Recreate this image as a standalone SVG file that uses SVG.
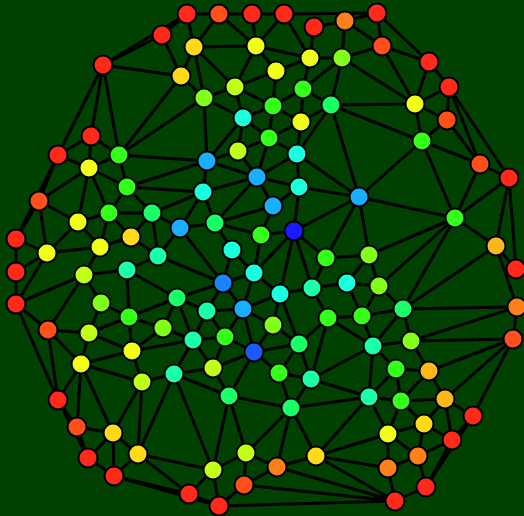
<svg xmlns="http://www.w3.org/2000/svg" width="524" height="516" viewBox="0 0 524 516">
<style>
#edges line{stroke:#000;stroke-width:3;stroke-linecap:round}
.node circle{r:9.5px;stroke:#000;stroke-width:2}
.r{fill:#ff2a1a}.or{fill:#ff4f1a}.o{fill:#ff801a}.oy{fill:#ffb81a}.gd{fill:#ffd91a}.y{fill:#f0ff1a}.yg{fill:#bfff1a}.l{fill:#80ff1a}.g{fill:#33ff1a}.sg{fill:#1aff66}.aq{fill:#1affa8}.cy{fill:#1affdc}.az{fill:#1aaeff}.db{fill:#1a85ff}.bl{fill:#1a1aff}.b2{fill:#1a5aff}
</style>
<rect width="524" height="516" fill="#004000"/>
<g id="edges">
<line x1="187" y1="14" x2="219" y2="14"/><line x1="219" y1="14" x2="252" y2="14"/><line x1="252" y1="14" x2="284" y2="14"/><line x1="284" y1="14" x2="377" y2="13"/>
<line x1="314" y1="27" x2="345" y2="21"/><line x1="314" y1="27" x2="310" y2="58"/><line x1="345" y1="21" x2="377" y2="13"/><line x1="345" y1="21" x2="382" y2="46"/>
<line x1="377" y1="13" x2="382" y2="46"/><line x1="377" y1="13" x2="429" y2="62"/><line x1="345" y1="21" x2="342" y2="58"/><line x1="342" y1="58" x2="382" y2="46"/>
<line x1="382" y1="46" x2="429" y2="62"/><line x1="382" y1="46" x2="415" y2="104"/><line x1="342" y1="58" x2="415" y2="104"/><line x1="429" y1="62" x2="449" y2="87"/>
<line x1="429" y1="62" x2="415" y2="104"/><line x1="449" y1="87" x2="415" y2="104"/><line x1="449" y1="87" x2="447" y2="120"/><line x1="449" y1="87" x2="480" y2="164"/>
<line x1="449" y1="87" x2="509" y2="178"/><line x1="331" y1="105" x2="415" y2="104"/><line x1="415" y1="104" x2="447" y2="120"/><line x1="415" y1="104" x2="422" y2="141"/>
<line x1="447" y1="120" x2="422" y2="141"/><line x1="447" y1="120" x2="480" y2="164"/><line x1="422" y1="141" x2="480" y2="164"/><line x1="480" y1="164" x2="509" y2="178"/>
<line x1="331" y1="105" x2="422" y2="141"/><line x1="422" y1="141" x2="359" y2="197"/><line x1="422" y1="141" x2="455" y2="218"/><line x1="480" y1="164" x2="455" y2="218"/>
<line x1="331" y1="105" x2="359" y2="197"/><line x1="162" y1="35" x2="187" y2="14"/><line x1="103" y1="65" x2="162" y2="35"/><line x1="103" y1="65" x2="187" y2="14"/>
<line x1="162" y1="35" x2="181" y2="76"/><line x1="103" y1="65" x2="181" y2="76"/><line x1="103" y1="65" x2="91" y2="136"/><line x1="103" y1="65" x2="58" y2="155"/>
<line x1="103" y1="65" x2="119" y2="155"/><line x1="187" y1="14" x2="194" y2="47"/><line x1="219" y1="14" x2="194" y2="47"/><line x1="219" y1="14" x2="256" y2="46"/>
<line x1="252" y1="14" x2="256" y2="46"/><line x1="284" y1="14" x2="256" y2="46"/><line x1="284" y1="14" x2="310" y2="58"/><line x1="194" y1="47" x2="256" y2="46"/>
<line x1="194" y1="47" x2="181" y2="76"/><line x1="194" y1="47" x2="204" y2="98"/><line x1="194" y1="47" x2="235" y2="87"/><line x1="256" y1="46" x2="235" y2="87"/>
<line x1="256" y1="46" x2="310" y2="58"/><line x1="256" y1="46" x2="276" y2="71"/><line x1="310" y1="58" x2="276" y2="71"/><line x1="310" y1="58" x2="303" y2="89"/>
<line x1="310" y1="58" x2="342" y2="58"/><line x1="342" y1="58" x2="303" y2="89"/><line x1="342" y1="58" x2="331" y2="105"/><line x1="276" y1="71" x2="235" y2="87"/>
<line x1="276" y1="71" x2="273" y2="106"/><line x1="303" y1="89" x2="273" y2="106"/><line x1="303" y1="89" x2="331" y2="105"/><line x1="303" y1="89" x2="301" y2="122"/>
<line x1="235" y1="87" x2="243" y2="118"/><line x1="235" y1="87" x2="273" y2="106"/><line x1="235" y1="87" x2="204" y2="98"/><line x1="181" y1="76" x2="204" y2="98"/>
<line x1="181" y1="76" x2="119" y2="155"/><line x1="204" y1="98" x2="119" y2="155"/><line x1="204" y1="98" x2="243" y2="118"/><line x1="204" y1="98" x2="207" y2="161"/>
<line x1="273" y1="106" x2="243" y2="118"/><line x1="273" y1="106" x2="301" y2="122"/><line x1="273" y1="106" x2="269" y2="138"/><line x1="331" y1="105" x2="301" y2="122"/>
<line x1="331" y1="105" x2="297" y2="154"/><line x1="243" y1="118" x2="269" y2="138"/><line x1="243" y1="118" x2="238" y2="151"/><line x1="243" y1="118" x2="207" y2="161"/>
<line x1="301" y1="122" x2="269" y2="138"/><line x1="301" y1="122" x2="297" y2="154"/><line x1="269" y1="138" x2="238" y2="151"/><line x1="269" y1="138" x2="297" y2="154"/>
<line x1="269" y1="138" x2="257" y2="177"/><line x1="238" y1="151" x2="207" y2="161"/><line x1="238" y1="151" x2="257" y2="177"/><line x1="207" y1="161" x2="257" y2="177"/>
<line x1="207" y1="161" x2="203" y2="192"/><line x1="207" y1="161" x2="119" y2="155"/><line x1="207" y1="161" x2="127" y2="187"/><line x1="297" y1="154" x2="257" y2="177"/>
<line x1="297" y1="154" x2="299" y2="187"/><line x1="297" y1="154" x2="359" y2="197"/><line x1="257" y1="177" x2="299" y2="187"/><line x1="257" y1="177" x2="273" y2="206"/>
<line x1="257" y1="177" x2="203" y2="192"/><line x1="257" y1="177" x2="215" y2="223"/><line x1="299" y1="187" x2="359" y2="197"/><line x1="299" y1="187" x2="273" y2="206"/>
<line x1="299" y1="187" x2="294" y2="231"/><line x1="273" y1="206" x2="261" y2="235"/><line x1="273" y1="206" x2="215" y2="223"/><line x1="203" y1="192" x2="215" y2="223"/>
<line x1="203" y1="192" x2="180" y2="228"/><line x1="203" y1="192" x2="152" y2="213"/><line x1="203" y1="192" x2="127" y2="187"/><line x1="359" y1="197" x2="455" y2="218"/>
<line x1="359" y1="197" x2="369" y2="255"/><line x1="359" y1="197" x2="326" y2="258"/><line x1="359" y1="197" x2="294" y2="231"/><line x1="215" y1="223" x2="180" y2="228"/>
<line x1="215" y1="223" x2="232" y2="250"/><line x1="215" y1="223" x2="261" y2="235"/><line x1="180" y1="228" x2="152" y2="213"/><line x1="180" y1="228" x2="158" y2="256"/>
<line x1="180" y1="228" x2="223" y2="283"/><line x1="294" y1="231" x2="261" y2="235"/><line x1="294" y1="231" x2="254" y2="273"/><line x1="294" y1="231" x2="280" y2="294"/>
<line x1="294" y1="231" x2="312" y2="288"/><line x1="294" y1="231" x2="326" y2="258"/><line x1="261" y1="235" x2="254" y2="273"/><line x1="232" y1="250" x2="223" y2="283"/>
<line x1="232" y1="250" x2="254" y2="273"/><line x1="455" y1="218" x2="509" y2="178"/><line x1="455" y1="218" x2="496" y2="246"/><line x1="455" y1="218" x2="369" y2="255"/>
<line x1="455" y1="218" x2="379" y2="286"/><line x1="455" y1="218" x2="403" y2="309"/><line x1="509" y1="178" x2="496" y2="246"/><line x1="509" y1="178" x2="516" y2="269"/>
<line x1="496" y1="246" x2="516" y2="269"/><line x1="496" y1="246" x2="517" y2="307"/><line x1="496" y1="246" x2="403" y2="309"/><line x1="403" y1="309" x2="517" y2="307"/>
<line x1="517" y1="307" x2="411" y2="341"/><line x1="411" y1="341" x2="513" y2="339"/><line x1="517" y1="307" x2="513" y2="339"/><line x1="326" y1="258" x2="369" y2="255"/>
<line x1="326" y1="258" x2="312" y2="288"/><line x1="369" y1="255" x2="347" y2="283"/><line x1="369" y1="255" x2="379" y2="286"/><line x1="347" y1="283" x2="379" y2="286"/>
<line x1="347" y1="283" x2="312" y2="288"/><line x1="347" y1="283" x2="362" y2="316"/><line x1="379" y1="286" x2="362" y2="316"/><line x1="379" y1="286" x2="403" y2="309"/>
<line x1="362" y1="316" x2="403" y2="309"/><line x1="362" y1="316" x2="328" y2="318"/><line x1="362" y1="316" x2="373" y2="346"/><line x1="403" y1="309" x2="373" y2="346"/>
<line x1="403" y1="309" x2="411" y2="341"/><line x1="373" y1="346" x2="411" y2="341"/><line x1="312" y1="288" x2="280" y2="294"/><line x1="312" y1="288" x2="328" y2="318"/>
<line x1="280" y1="294" x2="254" y2="273"/><line x1="280" y1="294" x2="243" y2="309"/><line x1="280" y1="294" x2="299" y2="344"/><line x1="280" y1="294" x2="273" y2="325"/>
<line x1="254" y1="273" x2="223" y2="283"/><line x1="254" y1="273" x2="243" y2="309"/><line x1="223" y1="283" x2="177" y2="298"/><line x1="223" y1="283" x2="158" y2="256"/>
<line x1="223" y1="283" x2="207" y2="311"/><line x1="223" y1="283" x2="243" y2="309"/><line x1="177" y1="298" x2="207" y2="311"/><line x1="177" y1="298" x2="193" y2="340"/>
<line x1="207" y1="311" x2="243" y2="309"/><line x1="207" y1="311" x2="193" y2="340"/><line x1="207" y1="311" x2="225" y2="337"/><line x1="243" y1="309" x2="225" y2="337"/>
<line x1="243" y1="309" x2="254" y2="352"/><line x1="243" y1="309" x2="273" y2="325"/><line x1="328" y1="318" x2="299" y2="344"/><line x1="328" y1="318" x2="373" y2="346"/>
<line x1="273" y1="325" x2="299" y2="344"/><line x1="273" y1="325" x2="254" y2="352"/><line x1="193" y1="340" x2="225" y2="337"/><line x1="225" y1="337" x2="254" y2="352"/>
<line x1="299" y1="344" x2="254" y2="352"/><line x1="299" y1="344" x2="279" y2="373"/><line x1="299" y1="344" x2="311" y2="379"/><line x1="328" y1="318" x2="311" y2="379"/>
<line x1="254" y1="352" x2="213" y2="368"/><line x1="254" y1="352" x2="229" y2="396"/><line x1="254" y1="352" x2="279" y2="373"/><line x1="193" y1="340" x2="213" y2="368"/>
<line x1="225" y1="337" x2="213" y2="368"/><line x1="193" y1="340" x2="174" y2="374"/><line x1="174" y1="374" x2="213" y2="368"/><line x1="174" y1="374" x2="229" y2="396"/>
<line x1="174" y1="374" x2="213" y2="470"/><line x1="174" y1="374" x2="142" y2="382"/><line x1="174" y1="374" x2="138" y2="454"/><line x1="213" y1="368" x2="229" y2="396"/>
<line x1="279" y1="373" x2="311" y2="379"/><line x1="279" y1="373" x2="291" y2="408"/><line x1="311" y1="379" x2="291" y2="408"/><line x1="311" y1="379" x2="373" y2="346"/>
<line x1="311" y1="379" x2="369" y2="397"/><line x1="291" y1="408" x2="369" y2="397"/><line x1="229" y1="396" x2="291" y2="408"/><line x1="229" y1="396" x2="246" y2="453"/>
<line x1="229" y1="396" x2="213" y2="470"/><line x1="291" y1="408" x2="246" y2="453"/><line x1="291" y1="408" x2="277" y2="467"/><line x1="291" y1="408" x2="316" y2="456"/>
<line x1="373" y1="346" x2="396" y2="369"/><line x1="373" y1="346" x2="369" y2="397"/><line x1="411" y1="341" x2="429" y2="371"/><line x1="396" y1="369" x2="429" y2="371"/>
<line x1="396" y1="369" x2="369" y2="397"/><line x1="396" y1="369" x2="401" y2="401"/><line x1="429" y1="371" x2="401" y2="401"/><line x1="429" y1="371" x2="513" y2="339"/>
<line x1="429" y1="371" x2="445" y2="399"/><line x1="513" y1="339" x2="445" y2="399"/><line x1="513" y1="339" x2="473" y2="416"/><line x1="369" y1="397" x2="401" y2="401"/>
<line x1="369" y1="397" x2="388" y2="434"/><line x1="369" y1="397" x2="316" y2="456"/><line x1="401" y1="401" x2="445" y2="399"/><line x1="401" y1="401" x2="424" y2="424"/>
<line x1="401" y1="401" x2="388" y2="434"/><line x1="445" y1="399" x2="473" y2="416"/><line x1="445" y1="399" x2="424" y2="424"/><line x1="445" y1="399" x2="452" y2="440"/>
<line x1="473" y1="416" x2="452" y2="440"/><line x1="473" y1="416" x2="426" y2="487"/><line x1="452" y1="440" x2="426" y2="487"/><line x1="452" y1="440" x2="418" y2="456"/>
<line x1="452" y1="440" x2="424" y2="424"/><line x1="424" y1="424" x2="388" y2="434"/><line x1="424" y1="424" x2="418" y2="456"/><line x1="388" y1="434" x2="418" y2="456"/>
<line x1="388" y1="434" x2="388" y2="468"/><line x1="388" y1="434" x2="316" y2="456"/><line x1="418" y1="456" x2="388" y2="468"/><line x1="418" y1="456" x2="426" y2="487"/>
<line x1="388" y1="468" x2="395" y2="501"/><line x1="426" y1="487" x2="395" y2="501"/><line x1="316" y1="456" x2="388" y2="468"/><line x1="316" y1="456" x2="395" y2="501"/>
<line x1="316" y1="456" x2="277" y2="467"/><line x1="277" y1="467" x2="246" y2="453"/><line x1="277" y1="467" x2="244" y2="485"/><line x1="277" y1="467" x2="395" y2="501"/>
<line x1="246" y1="453" x2="244" y2="485"/><line x1="246" y1="453" x2="213" y2="470"/><line x1="244" y1="485" x2="219" y2="506"/><line x1="244" y1="485" x2="395" y2="501"/>
<line x1="219" y1="506" x2="395" y2="501"/><line x1="213" y1="470" x2="189" y2="494"/><line x1="213" y1="470" x2="219" y2="506"/><line x1="189" y1="494" x2="219" y2="506"/>
<line x1="213" y1="470" x2="138" y2="454"/><line x1="138" y1="454" x2="189" y2="494"/><line x1="114" y1="476" x2="189" y2="494"/><line x1="114" y1="476" x2="219" y2="506"/>
<line x1="114" y1="476" x2="138" y2="454"/><line x1="114" y1="476" x2="88" y2="458"/><line x1="113" y1="433" x2="138" y2="454"/><line x1="113" y1="433" x2="88" y2="458"/>
<line x1="113" y1="433" x2="114" y2="476"/><line x1="77" y1="427" x2="113" y2="433"/><line x1="58" y1="400" x2="77" y2="427"/><line x1="77" y1="427" x2="88" y2="458"/>
<line x1="58" y1="400" x2="88" y2="458"/><line x1="81" y1="364" x2="58" y2="400"/><line x1="81" y1="364" x2="77" y2="427"/><line x1="81" y1="364" x2="113" y2="433"/>
<line x1="81" y1="364" x2="132" y2="351"/><line x1="81" y1="364" x2="142" y2="382"/><line x1="81" y1="364" x2="89" y2="333"/><line x1="81" y1="364" x2="48" y2="330"/>
<line x1="132" y1="351" x2="142" y2="382"/><line x1="132" y1="351" x2="89" y2="333"/><line x1="132" y1="351" x2="129" y2="317"/><line x1="132" y1="351" x2="163" y2="328"/>
<line x1="132" y1="351" x2="193" y2="340"/><line x1="142" y1="382" x2="113" y2="433"/><line x1="142" y1="382" x2="138" y2="454"/><line x1="48" y1="330" x2="58" y2="400"/>
<line x1="16" y1="304" x2="58" y2="400"/><line x1="48" y1="330" x2="16" y2="304"/><line x1="48" y1="330" x2="89" y2="333"/><line x1="48" y1="330" x2="84" y2="275"/>
<line x1="16" y1="304" x2="84" y2="275"/><line x1="16" y1="304" x2="16" y2="272"/><line x1="16" y1="304" x2="47" y2="253"/><line x1="16" y1="272" x2="16" y2="239"/>
<line x1="16" y1="272" x2="47" y2="253"/><line x1="16" y1="239" x2="47" y2="253"/><line x1="16" y1="239" x2="39" y2="201"/><line x1="39" y1="201" x2="47" y2="253"/>
<line x1="39" y1="201" x2="78" y2="222"/><line x1="39" y1="201" x2="89" y2="168"/><line x1="39" y1="201" x2="58" y2="155"/><line x1="16" y1="239" x2="58" y2="155"/>
<line x1="58" y1="155" x2="91" y2="136"/><line x1="58" y1="155" x2="89" y2="168"/><line x1="91" y1="136" x2="89" y2="168"/><line x1="91" y1="136" x2="119" y2="155"/>
<line x1="89" y1="168" x2="119" y2="155"/><line x1="89" y1="168" x2="127" y2="187"/><line x1="119" y1="155" x2="127" y2="187"/><line x1="89" y1="168" x2="78" y2="222"/>
<line x1="89" y1="168" x2="109" y2="213"/><line x1="127" y1="187" x2="109" y2="213"/><line x1="127" y1="187" x2="152" y2="213"/><line x1="78" y1="222" x2="109" y2="213"/>
<line x1="78" y1="222" x2="47" y2="253"/><line x1="78" y1="222" x2="100" y2="247"/><line x1="109" y1="213" x2="100" y2="247"/><line x1="109" y1="213" x2="152" y2="213"/>
<line x1="109" y1="213" x2="131" y2="237"/><line x1="152" y1="213" x2="131" y2="237"/><line x1="152" y1="213" x2="158" y2="256"/><line x1="47" y1="253" x2="100" y2="247"/>
<line x1="100" y1="247" x2="131" y2="237"/><line x1="100" y1="247" x2="84" y2="275"/><line x1="131" y1="237" x2="158" y2="256"/><line x1="158" y1="256" x2="127" y2="270"/>
<line x1="84" y1="275" x2="127" y2="270"/><line x1="84" y1="275" x2="101" y2="303"/><line x1="101" y1="303" x2="129" y2="317"/><line x1="101" y1="303" x2="89" y2="333"/>
<line x1="127" y1="270" x2="129" y2="317"/><line x1="127" y1="270" x2="177" y2="298"/><line x1="129" y1="317" x2="177" y2="298"/><line x1="129" y1="317" x2="163" y2="328"/>
<line x1="129" y1="317" x2="89" y2="333"/><line x1="163" y1="328" x2="177" y2="298"/><line x1="163" y1="328" x2="193" y2="340"/>
</g>
<g id="n1" class="node"><circle cx="187" cy="14" class="r"/></g>
<g id="n2" class="node"><circle cx="219" cy="14" class="or"/></g>
<g id="n3" class="node"><circle cx="252" cy="14" class="r"/></g>
<g id="n4" class="node"><circle cx="284" cy="14" class="r"/></g>
<g id="n5" class="node"><circle cx="314" cy="27" class="r"/></g>
<g id="n6" class="node"><circle cx="345" cy="21" class="o"/></g>
<g id="n7" class="node"><circle cx="377" cy="13" class="r"/></g>
<g id="n8" class="node"><circle cx="162" cy="35" class="r"/></g>
<g id="n9" class="node"><circle cx="194" cy="47" class="gd"/></g>
<g id="n10" class="node"><circle cx="256" cy="46" class="y"/></g>
<g id="n11" class="node"><circle cx="310" cy="58" class="y"/></g>
<g id="n12" class="node"><circle cx="342" cy="58" class="l"/></g>
<g id="n13" class="node"><circle cx="382" cy="46" class="or"/></g>
<g id="n14" class="node"><circle cx="103" cy="65" class="r"/></g>
<g id="n15" class="node"><circle cx="181" cy="76" class="gd"/></g>
<g id="n16" class="node"><circle cx="235" cy="87" class="yg"/></g>
<g id="n17" class="node"><circle cx="276" cy="71" class="y"/></g>
<g id="n18" class="node"><circle cx="303" cy="89" class="g"/></g>
<g id="n19" class="node"><circle cx="331" cy="105" class="sg"/></g>
<g id="n20" class="node"><circle cx="204" cy="98" class="l"/></g>
<g id="n21" class="node"><circle cx="429" cy="62" class="r"/></g>
<g id="n22" class="node"><circle cx="449" cy="87" class="r"/></g>
<g id="n23" class="node"><circle cx="415" cy="104" class="y"/></g>
<g id="n24" class="node"><circle cx="447" cy="120" class="or"/></g>
<g id="n25" class="node"><circle cx="243" cy="118" class="cy"/></g>
<g id="n26" class="node"><circle cx="273" cy="106" class="g"/></g>
<g id="n27" class="node"><circle cx="301" cy="122" class="y"/></g>
<g id="n28" class="node"><circle cx="269" cy="138" class="g"/></g>
<g id="n29" class="node"><circle cx="297" cy="154" class="cy"/></g>
<g id="n30" class="node"><circle cx="238" cy="151" class="yg"/></g>
<g id="n31" class="node"><circle cx="207" cy="161" class="az"/></g>
<g id="n32" class="node"><circle cx="257" cy="177" class="az"/></g>
<g id="n33" class="node"><circle cx="91" cy="136" class="r"/></g>
<g id="n34" class="node"><circle cx="58" cy="155" class="r"/></g>
<g id="n35" class="node"><circle cx="89" cy="168" class="y"/></g>
<g id="n36" class="node"><circle cx="119" cy="155" class="g"/></g>
<g id="n37" class="node"><circle cx="422" cy="141" class="g"/></g>
<g id="n38" class="node"><circle cx="480" cy="164" class="or"/></g>
<g id="n39" class="node"><circle cx="509" cy="178" class="r"/></g>
<g id="n40" class="node"><circle cx="127" cy="187" class="g"/></g>
<g id="n41" class="node"><circle cx="203" cy="192" class="cy"/></g>
<g id="n42" class="node"><circle cx="299" cy="187" class="cy"/></g>
<g id="n43" class="node"><circle cx="359" cy="197" class="az"/></g>
<g id="n44" class="node"><circle cx="273" cy="206" class="az"/></g>
<g id="n45" class="node"><circle cx="39" cy="201" class="or"/></g>
<g id="n46" class="node"><circle cx="78" cy="222" class="y"/></g>
<g id="n47" class="node"><circle cx="109" cy="213" class="g"/></g>
<g id="n48" class="node"><circle cx="152" cy="213" class="sg"/></g>
<g id="n49" class="node"><circle cx="215" cy="223" class="sg"/></g>
<g id="n50" class="node"><circle cx="180" cy="228" class="az"/></g>
<g id="n51" class="node"><circle cx="294" cy="231" class="bl"/></g>
<g id="n52" class="node"><circle cx="261" cy="235" class="g"/></g>
<g id="n53" class="node"><circle cx="455" cy="218" class="g"/></g>
<g id="n54" class="node"><circle cx="16" cy="239" class="r"/></g>
<g id="n55" class="node"><circle cx="47" cy="253" class="y"/></g>
<g id="n56" class="node"><circle cx="100" cy="247" class="y"/></g>
<g id="n57" class="node"><circle cx="131" cy="237" class="gd"/></g>
<g id="n58" class="node"><circle cx="158" cy="256" class="aq"/></g>
<g id="n59" class="node"><circle cx="232" cy="250" class="cy"/></g>
<g id="n60" class="node"><circle cx="326" cy="258" class="g"/></g>
<g id="n61" class="node"><circle cx="369" cy="255" class="l"/></g>
<g id="n62" class="node"><circle cx="496" cy="246" class="oy"/></g>
<g id="n63" class="node"><circle cx="16" cy="272" class="r"/></g>
<g id="n64" class="node"><circle cx="84" cy="275" class="yg"/></g>
<g id="n65" class="node"><circle cx="127" cy="270" class="aq"/></g>
<g id="n66" class="node"><circle cx="254" cy="273" class="cy"/></g>
<g id="n67" class="node"><circle cx="223" cy="283" class="db"/></g>
<g id="n68" class="node"><circle cx="347" cy="283" class="cy"/></g>
<g id="n69" class="node"><circle cx="379" cy="286" class="l"/></g>
<g id="n70" class="node"><circle cx="516" cy="269" class="r"/></g>
<g id="n71" class="node"><circle cx="16" cy="304" class="r"/></g>
<g id="n72" class="node"><circle cx="101" cy="303" class="l"/></g>
<g id="n73" class="node"><circle cx="177" cy="298" class="sg"/></g>
<g id="n74" class="node"><circle cx="280" cy="294" class="cy"/></g>
<g id="n75" class="node"><circle cx="312" cy="288" class="aq"/></g>
<g id="n76" class="node"><circle cx="48" cy="330" class="or"/></g>
<g id="n77" class="node"><circle cx="89" cy="333" class="yg"/></g>
<g id="n78" class="node"><circle cx="129" cy="317" class="g"/></g>
<g id="n79" class="node"><circle cx="163" cy="328" class="l"/></g>
<g id="n80" class="node"><circle cx="207" cy="311" class="aq"/></g>
<g id="n81" class="node"><circle cx="243" cy="309" class="az"/></g>
<g id="n82" class="node"><circle cx="328" cy="318" class="g"/></g>
<g id="n83" class="node"><circle cx="362" cy="316" class="g"/></g>
<g id="n84" class="node"><circle cx="403" cy="309" class="sg"/></g>
<g id="n85" class="node"><circle cx="517" cy="307" class="o"/></g>
<g id="n86" class="node"><circle cx="193" cy="340" class="aq"/></g>
<g id="n87" class="node"><circle cx="225" cy="337" class="g"/></g>
<g id="n88" class="node"><circle cx="273" cy="325" class="l"/></g>
<g id="n89" class="node"><circle cx="299" cy="344" class="sg"/></g>
<g id="n90" class="node"><circle cx="411" cy="341" class="l"/></g>
<g id="n91" class="node"><circle cx="513" cy="339" class="or"/></g>
<g id="n92" class="node"><circle cx="81" cy="364" class="y"/></g>
<g id="n93" class="node"><circle cx="132" cy="351" class="y"/></g>
<g id="n94" class="node"><circle cx="254" cy="352" class="b2"/></g>
<g id="n95" class="node"><circle cx="373" cy="346" class="aq"/></g>
<g id="n96" class="node"><circle cx="142" cy="382" class="yg"/></g>
<g id="n97" class="node"><circle cx="174" cy="374" class="aq"/></g>
<g id="n98" class="node"><circle cx="213" cy="368" class="yg"/></g>
<g id="n99" class="node"><circle cx="279" cy="373" class="g"/></g>
<g id="n100" class="node"><circle cx="311" cy="379" class="aq"/></g>
<g id="n101" class="node"><circle cx="396" cy="369" class="g"/></g>
<g id="n102" class="node"><circle cx="429" cy="371" class="oy"/></g>
<g id="n103" class="node"><circle cx="58" cy="400" class="r"/></g>
<g id="n104" class="node"><circle cx="229" cy="396" class="sg"/></g>
<g id="n105" class="node"><circle cx="291" cy="408" class="sg"/></g>
<g id="n106" class="node"><circle cx="369" cy="397" class="aq"/></g>
<g id="n107" class="node"><circle cx="401" cy="401" class="g"/></g>
<g id="n108" class="node"><circle cx="445" cy="399" class="oy"/></g>
<g id="n109" class="node"><circle cx="77" cy="427" class="or"/></g>
<g id="n110" class="node"><circle cx="113" cy="433" class="gd"/></g>
<g id="n111" class="node"><circle cx="388" cy="434" class="y"/></g>
<g id="n112" class="node"><circle cx="424" cy="424" class="gd"/></g>
<g id="n113" class="node"><circle cx="473" cy="416" class="r"/></g>
<g id="n114" class="node"><circle cx="88" cy="458" class="r"/></g>
<g id="n115" class="node"><circle cx="138" cy="454" class="gd"/></g>
<g id="n116" class="node"><circle cx="246" cy="453" class="yg"/></g>
<g id="n117" class="node"><circle cx="316" cy="456" class="gd"/></g>
<g id="n118" class="node"><circle cx="277" cy="467" class="o"/></g>
<g id="n119" class="node"><circle cx="452" cy="440" class="r"/></g>
<g id="n120" class="node"><circle cx="418" cy="456" class="o"/></g>
<g id="n121" class="node"><circle cx="114" cy="476" class="r"/></g>
<g id="n122" class="node"><circle cx="213" cy="470" class="yg"/></g>
<g id="n123" class="node"><circle cx="388" cy="468" class="o"/></g>
<g id="n124" class="node"><circle cx="189" cy="494" class="r"/></g>
<g id="n125" class="node"><circle cx="244" cy="485" class="or"/></g>
<g id="n126" class="node"><circle cx="219" cy="506" class="r"/></g>
<g id="n127" class="node"><circle cx="395" cy="501" class="r"/></g>
<g id="n128" class="node"><circle cx="426" cy="487" class="r"/></g>
</svg>
